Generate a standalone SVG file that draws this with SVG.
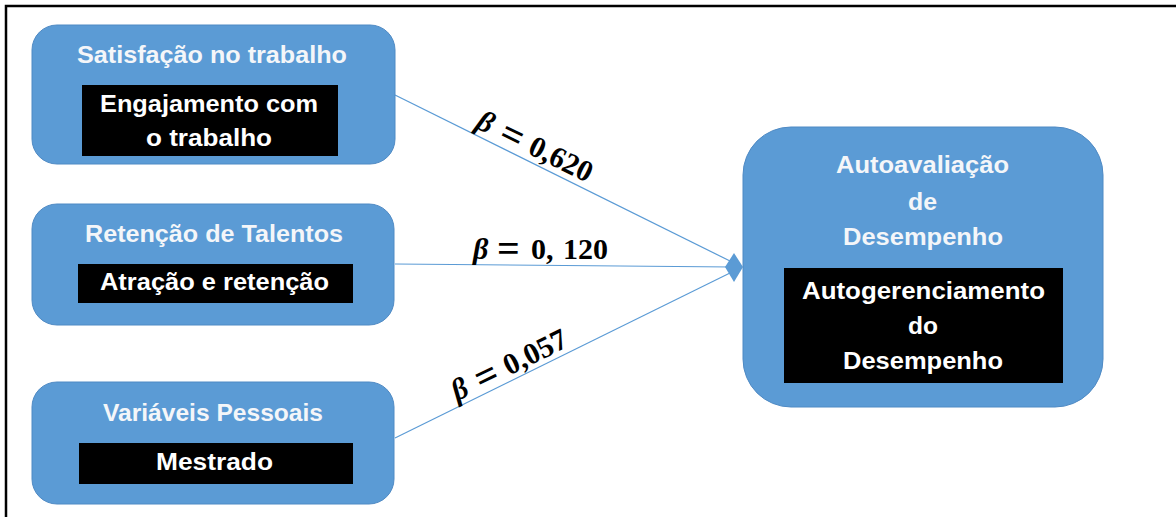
<svg xmlns="http://www.w3.org/2000/svg" width="1176" height="517" viewBox="0 0 1176 517">
  <style>
    .box { fill: #5b9bd5; stroke: #4f8ac4; stroke-width: 1; }
    .inner { fill: #000000; }
    .title { font-family: "Liberation Sans", Arial, sans-serif; font-weight: bold; font-size: 24px; fill: #f4f6f9; text-anchor: start; }
    .label { font-family: "Liberation Sans", Arial, sans-serif; font-weight: bold; font-size: 24px; fill: #ffffff; text-anchor: start; }
    .edge { stroke: #5b9bd5; stroke-width: 1.2; fill: none; }
    .beta { font-family: "Liberation Serif", "DejaVu Serif", serif; font-weight: bold; font-size: 30px; fill: #000000; }
    .greek { font-style: italic; }
    .eq { font-size: 40px; }
    .frame { stroke: #000000; stroke-width: 2.5; fill: none; }
  </style>

  <rect width="1176" height="517" fill="#ffffff"/>

  <!-- frame (top and left edges) -->
  <path class="frame" d="M6,517 V6 H1176"/>

  <!-- connectors -->
  <g id="connectors">
    <line class="edge" x1="395" y1="95" x2="732" y2="262"/>
    <line class="edge" x1="395" y1="264" x2="732" y2="267"/>
    <line class="edge" x1="395" y1="438" x2="732" y2="272"/>
    <polygon points="725,267 734,253 743,267 734,282" fill="#5b9bd5"/>

    <!-- coefficient labels -->
    <g transform="translate(531,162) rotate(26.2)">
      <text class="beta" y="-6"><tspan class="greek" x="-66">β</tspan><tspan class="eq" x="-40" dy="3">=</tspan><tspan x="-8" dy="-3">0,620</tspan></text>
    </g>
    <text class="beta" y="259"><tspan class="greek" x="473">β</tspan><tspan class="eq" x="497" dy="3">=</tspan><tspan x="531" dy="-3">0,</tspan><tspan x="563">120</tspan></text>
    <g transform="translate(518,378) rotate(-26.1)">
      <text class="beta" y="-6"><tspan class="greek" x="-65">β</tspan><tspan class="eq" x="-39" dy="3">=</tspan><tspan x="-7" dy="-3">0,057</tspan></text>
    </g>
  </g>

  <!-- Satisfação no trabalho -->
  <g id="node-satisfacao">
    <rect class="box" x="32" y="25" width="363" height="139" rx="25" ry="25"/>
    <rect class="inner" x="82" y="85" width="256" height="71"/>
    <text class="title" x="77" y="63" textLength="270" lengthAdjust="spacingAndGlyphs">Satisfação no trabalho</text>
    <text class="label" x="100" y="112" textLength="218" lengthAdjust="spacingAndGlyphs">Engajamento com</text>
    <text class="label" x="146" y="146" textLength="126" lengthAdjust="spacingAndGlyphs">o trabalho</text>
  </g>

  <!-- Retenção de Talentos -->
  <g id="node-retencao">
    <rect class="box" x="32" y="204" width="362" height="121" rx="25" ry="25"/>
    <rect class="inner" x="78" y="264" width="275" height="39"/>
    <text class="title" x="85" y="242" textLength="258" lengthAdjust="spacingAndGlyphs">Retenção de Talentos</text>
    <text class="label" x="100" y="290" textLength="229" lengthAdjust="spacingAndGlyphs">Atração e retenção</text>
  </g>

  <!-- Variáveis Pessoais -->
  <g id="node-variaveis">
    <rect class="box" x="32" y="382" width="362" height="122" rx="25" ry="25"/>
    <rect class="inner" x="79" y="443" width="274" height="41"/>
    <text class="title" x="103" y="421" textLength="220" lengthAdjust="spacingAndGlyphs">Variáveis Pessoais</text>
    <text class="label" x="156" y="470" textLength="117" lengthAdjust="spacingAndGlyphs">Mestrado</text>
  </g>

  <!-- Autoavaliação de Desempenho -->
  <g id="node-autoavaliacao">
    <rect class="box" x="743" y="127" width="360" height="280" rx="48" ry="48"/>
    <rect class="inner" x="784" y="268" width="279" height="115"/>
    <text class="title" x="836" y="173" textLength="173" lengthAdjust="spacingAndGlyphs">Autoavaliação</text>
    <text class="title" x="908" y="210" textLength="29" lengthAdjust="spacingAndGlyphs">de</text>
    <text class="title" x="843" y="245" textLength="160" lengthAdjust="spacingAndGlyphs">Desempenho</text>
    <text class="label" x="802" y="299" textLength="243" lengthAdjust="spacingAndGlyphs">Autogerenciamento</text>
    <text class="label" x="908" y="334" textLength="30" lengthAdjust="spacingAndGlyphs">do</text>
    <text class="label" x="843" y="369" textLength="160" lengthAdjust="spacingAndGlyphs">Desempenho</text>
  </g>
</svg>
